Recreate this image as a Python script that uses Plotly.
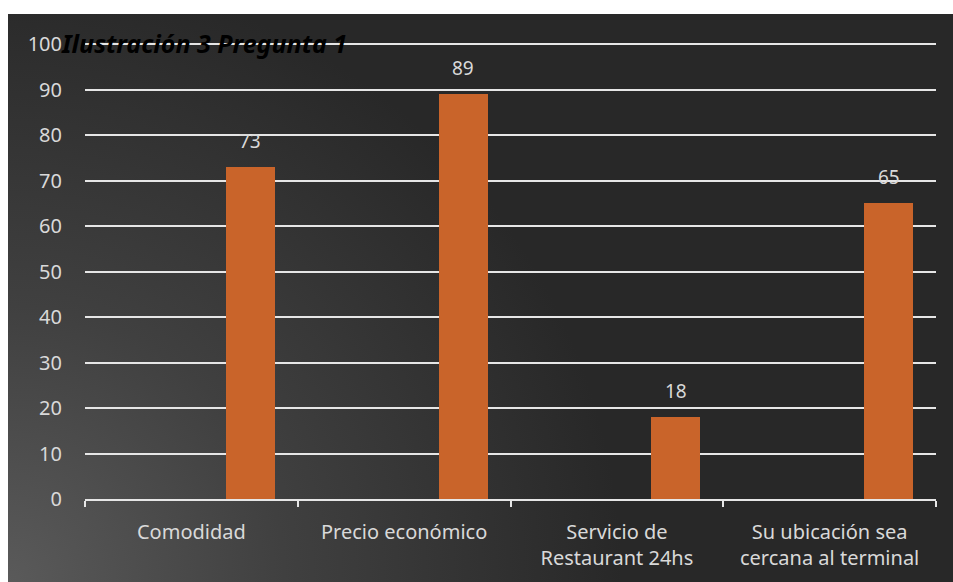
import base64
import plotly.graph_objects as go

# Survey question 1 results
categories = [
    "Comodidad",
    "Precio económico",
    "Servicio de<br>Restaurant 24hs",
    "Su ubicación sea<br>cercana al terminal",
]
values = [73, 89, 18, 65]
y_ticks = [0, 10, 20, 30, 40, 50, 60, 70, 80, 90, 100]

W, H = 953, 582
M_L, M_R, M_T, M_B = 85, 17, 42, 83
PW, PH = W - M_L - M_R, H - M_T - M_B
Y_MAX = 100.45

BAR_OFFSET = 0.162
BAR_WIDTH = 0.23
BAR_COLOR = "#c9642a"
TEXT_COLOR = "#d9d9d9"
FONT = "Noto Sans"

# dark panel with soft light spot in the lower-left corner
panel_w, panel_h = W - 8, H - 14
svg = f"""<svg xmlns='http://www.w3.org/2000/svg' width='{panel_w}' height='{panel_h}'>
<defs><radialGradient id='g' cx='0' cy='{panel_h}' r='{int(panel_w*0.65)}' gradientUnits='userSpaceOnUse'>
<stop offset='0' stop-color='#5a5a5a'/><stop offset='0.45' stop-color='#404040'/>
<stop offset='1' stop-color='#282828'/></radialGradient></defs>
<rect width='{panel_w}' height='{panel_h}' fill='#282828'/>
<rect width='{panel_w}' height='{panel_h}' fill='url(#g)'/></svg>"""
svg_uri = "data:image/svg+xml;base64," + base64.b64encode(svg.encode()).decode()

px_x = lambda p: (p - M_L) / PW
px_y = lambda p: (H - M_B - p) / PH

fig = go.Figure()
fig.add_trace(go.Bar(
    x=categories,
    y=values,
    offset=BAR_OFFSET,
    width=BAR_WIDTH,
    marker=dict(color=BAR_COLOR, line=dict(width=0)),
    hoverinfo="x+y",
))

# value labels above each bar
for i, v in enumerate(values):
    fig.add_annotation(
        x=i + BAR_OFFSET + BAR_WIDTH / 2, y=v, text=str(v),
        showarrow=False, yanchor="bottom", yshift=11,
        font=dict(family=FONT, size=19, color=TEXT_COLOR),
    )

fig.add_annotation(
    xref="paper", yref="paper", x=px_x(59), y=px_y(43),
    xanchor="left", yanchor="middle", showarrow=False,
    text="<b><i>Ilustración 3 Pregunta 1</i></b>",
    font=dict(family=FONT, size=25, color="#000000"),
)

fig.add_layout_image(
    source=svg_uri, xref="paper", yref="paper",
    x=px_x(8), y=px_y(14), sizex=panel_w / PW, sizey=panel_h / PH,
    xanchor="left", yanchor="top", sizing="stretch", layer="below",
)

fig.update_layout(
    width=W, height=H,
    margin=dict(l=M_L, r=M_R, t=M_T, b=M_B),
    paper_bgcolor="#ffffff",
    plot_bgcolor="rgba(0,0,0,0)",
    showlegend=False,
    bargap=0,
    xaxis=dict(
        type="category",
        range=[-0.5, len(categories) - 0.5],
        showgrid=False,
        showline=True, linecolor="#e6e6e6", linewidth=2,
        ticks="outside", tickson="boundaries", ticklen=6, tickwidth=2, tickcolor="#e6e6e6",
        ticklabelstandoff=14,
        tickfont=dict(family=FONT, size=20, color=TEXT_COLOR),
        zeroline=False,
    ),
    yaxis=dict(
        range=[0, Y_MAX],
        tickvals=y_ticks,
        showgrid=True, gridcolor="#e6e6e6", gridwidth=2,
        showline=False, zeroline=False,
        ticks="", ticklabelstandoff=22,
        tickfont=dict(family=FONT, size=20, color=TEXT_COLOR),
    ),
)

fig.write_html("out.html")
